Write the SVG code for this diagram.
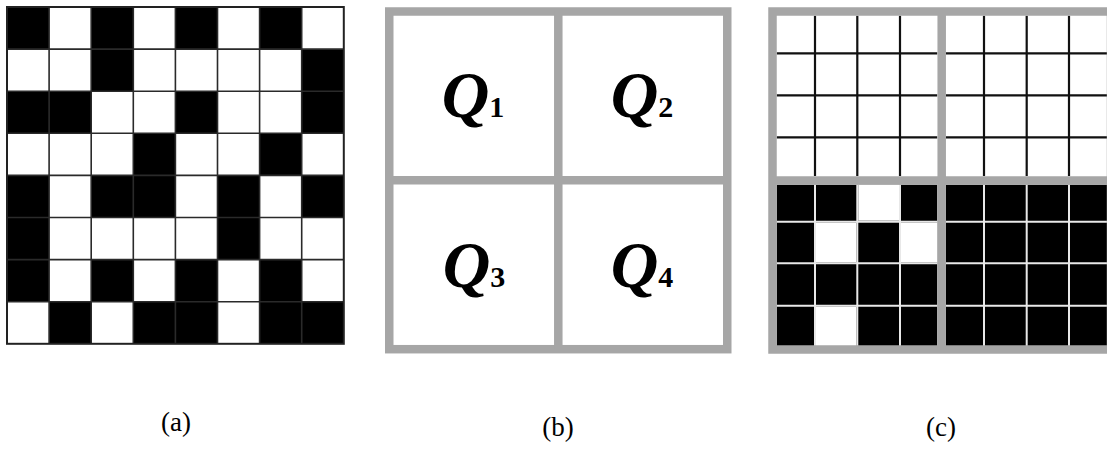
<svg xmlns="http://www.w3.org/2000/svg" width="1107" height="455" viewBox="0 0 1107 455">
<style>
.b{fill:#000}
.w{fill:#fff}
.gridA{stroke:#2a2a2a;stroke-width:1.6;fill:none}
.frame{stroke:#a6a6a6;stroke-width:8.5;fill:none}
.thin{stroke:#111;stroke-width:2.2;fill:none}
.wl{stroke:#e8e8e8;stroke-width:2;fill:none}
.q{font-family:"Liberation Serif",serif;font-weight:bold;font-style:italic;font-size:66px;fill:#000}
.sub{font-style:normal;font-size:30px}
.lab{font-family:"Liberation Serif",serif;font-size:27px;fill:#000}
</style>
<rect width="1107" height="455" fill="#fff"/>
<g id="panel-a">
<g class="b">
<rect x="7" y="7" width="42.1" height="42.1"/><rect x="91.2" y="7" width="42.1" height="42.1"/><rect x="175.4" y="7" width="42.1" height="42.1"/><rect x="259.6" y="7" width="42.1" height="42.1"/>
<rect x="91.2" y="49.1" width="42.1" height="42.1"/><rect x="301.7" y="49.1" width="42.1" height="42.1"/>
<rect x="7" y="91.2" width="42.1" height="42.1"/><rect x="49.1" y="91.2" width="42.1" height="42.1"/><rect x="175.4" y="91.2" width="42.1" height="42.1"/><rect x="301.7" y="91.2" width="42.1" height="42.1"/>
<rect x="133.3" y="133.3" width="42.1" height="42.1"/><rect x="259.6" y="133.3" width="42.1" height="42.1"/>
<rect x="7" y="175.4" width="42.1" height="42.1"/><rect x="91.2" y="175.4" width="42.1" height="42.1"/><rect x="133.3" y="175.4" width="42.1" height="42.1"/><rect x="217.5" y="175.4" width="42.1" height="42.1"/><rect x="301.7" y="175.4" width="42.1" height="42.1"/>
<rect x="7" y="217.5" width="42.1" height="42.1"/><rect x="217.5" y="217.5" width="42.1" height="42.1"/>
<rect x="7" y="259.6" width="42.1" height="42.1"/><rect x="91.2" y="259.6" width="42.1" height="42.1"/><rect x="175.4" y="259.6" width="42.1" height="42.1"/><rect x="259.6" y="259.6" width="42.1" height="42.1"/>
<rect x="49.1" y="301.7" width="42.1" height="42.1"/><rect x="133.3" y="301.7" width="42.1" height="42.1"/><rect x="175.4" y="301.7" width="42.1" height="42.1"/><rect x="259.6" y="301.7" width="42.1" height="42.1"/><rect x="301.7" y="301.7" width="42.1" height="42.1"/>
</g>
<path class="gridA" d="M49.1 7V343.8M91.2 7V343.8M133.3 7V343.8M175.4 7V343.8M217.5 7V343.8M259.6 7V343.8M301.7 7V343.8M7 49.1H343.8M7 91.2H343.8M7 133.3H343.8M7 175.4H343.8M7 217.5H343.8M7 259.6H343.8M7 301.7H343.8"/>
<rect x="7" y="7" width="336.8" height="336.8" fill="none" stroke="#222" stroke-width="2"/>
</g>
<g id="panel-b">
<rect class="frame" x="389.25" y="11.5" width="338" height="337.7"/>
<path class="frame" d="M558.3 11.5V349.2M389.25 180.2H727.25"/>
<g id="q1"><text class="q" x="473" y="117" text-anchor="middle">Q<tspan class="sub">1</tspan></text></g>
<g id="q2"><text class="q" x="642" y="117" text-anchor="middle">Q<tspan class="sub">2</tspan></text></g>
<g id="q3"><text class="q" x="474" y="287" text-anchor="middle">Q<tspan class="sub">3</tspan></text></g>
<g id="q4"><text class="q" x="642" y="287" text-anchor="middle">Q<tspan class="sub">4</tspan></text></g>
</g>
<g id="panel-c">
<rect class="b" x="776.7" y="184.7" width="160.6" height="161.3"/>
<rect class="b" x="946" y="184.7" width="161" height="161.3"/>
<path class="wl" d="M815 184.7V346M857.3 184.7V346M900 184.7V346M984 184.7V346M1026.7 184.7V346M1069 184.7V346M776.7 221.7H937.3M776.7 263.3H937.3M776.7 305.7H937.3M946 221.7H1107M946 263.3H1107M946 305.7H1107"/>
<g class="w">
<rect x="858.3" y="184.7" width="40.7" height="36"/>
<rect x="816" y="222.7" width="40.3" height="39.6"/>
<rect x="901" y="222.7" width="36.3" height="39.6"/>
<rect x="816" y="306.7" width="40.3" height="39.3"/>
</g>
<path class="thin" d="M815 15.7V176M857.3 15.7V176M900 15.7V176M984 15.7V176M1026.7 15.7V176M1069 15.7V176M776.7 53.3H937.3M776.7 95.3H937.3M776.7 137.3H937.3M946 53.3H1107M946 95.3H1107M946 137.3H1107"/>
<rect class="frame" x="772.5" y="11.5" width="338.5" height="338"/>
<path class="frame" d="M941.7 11.5V349.5M772.5 180.5H1111"/>
</g>
<g id="labels">
<text class="lab" x="176" y="431" text-anchor="middle">(a)</text>
<text class="lab" x="558" y="436" text-anchor="middle">(b)</text>
<text class="lab" x="941" y="436" text-anchor="middle">(c)</text>
</g>
</svg>
